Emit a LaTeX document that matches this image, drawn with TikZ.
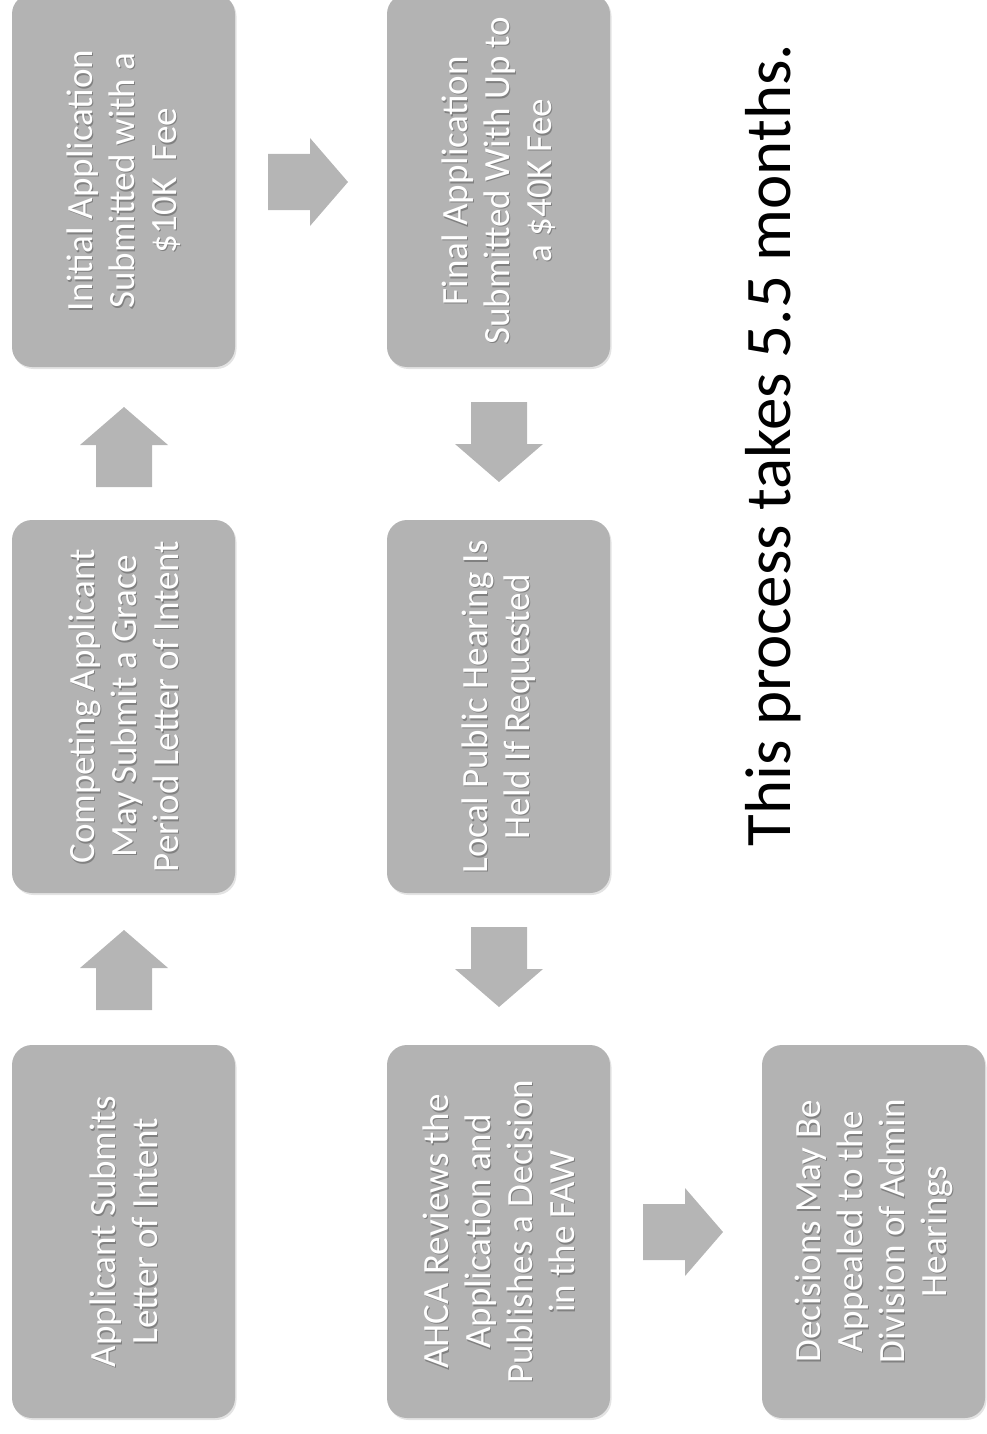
\documentclass[tikz,border=0pt]{standalone}
\usepackage{fontspec}
\setmainfont{Carlito}
\usetikzlibrary{shadows}
\definecolor{boxgray}{RGB}{179,179,179}
\definecolor{arrgray}{RGB}{181,181,181}
\tikzset{
  stepbox/.style={draw=none, fill=boxgray, rounded corners=20pt,
    minimum width=223pt, minimum height=373pt, inner sep=0pt,
    drop shadow={opacity=0.22, shadow xshift=1.5pt, shadow yshift=-2pt}},
  boxtext/.style={rotate=90, align=center, text=white, inner sep=0pt,
    font=\fontsize{37}{42}\selectfont},
  boxshadow/.style={boxtext, text=black, opacity=0.28},
  bigtext/.style={rotate=90, anchor=base, inner sep=0pt, text=black,
    font=\fontsize{65}{78}\selectfont},
  blockarrow/.pic={\fill[arrgray] (0,-28) -- (42,-28) -- (42,-44) -- (80,0)
    -- (42,44) -- (42,28) -- (0,28) -- cycle;}
}
\newcommand{\steptext}[4]{%
  \node[boxshadow] (#1s) at ([shift={(1.5pt,-1.5pt)}]#2) {#3};
  \node[boxtext] (#1t) at (#2) {#3};}
\begin{document}
\begin{tikzpicture}[x=1pt,y=-1pt]
\useasboundingbox (0,0) rectangle (987,1434);
% boxes
\node[stepbox] (A) at (123.5,180.5) {};
\node[stepbox] (B) at (123.5,706.5) {};
\node[stepbox] (C) at (123.5,1231.5) {};
\node[stepbox] (D) at (498.5,180.5) {};
\node[stepbox] (E) at (498.5,706.5) {};
\node[stepbox] (F) at (498.5,1231.5) {};
\node[stepbox] (G) at (873.5,1231.5) {};
% texts
\steptext{A}{A.center}{Initial Application\\Submitted with a\\\$10K\ \ Fee}{}
\steptext{B}{B.center}{Competing Applicant\\May Submit a Grace\\Period Letter of Intent}{}
\steptext{C}{C.center}{Applicant Submits\\Letter of Intent}{}
\steptext{D}{D.center}{Final Application\\Submitted With Up to\\a \$40K Fee}{}
\steptext{E}{E.center}{Local Public Hearing Is\\Held If Requested}{}
\steptext{F}{F.center}{AHCA Reviews the\\Application and\\Publishes a Decision\\in the FAW}{}
\steptext{G}{G.center}{Decisions May Be\\Appealed to the\\Division of Admin\\Hearings}{}
% block arrows
\pic[rotate=90] at (124,1010) {blockarrow};
\pic[rotate=90] at (124,487) {blockarrow};
\pic at (268,182) {blockarrow};
\pic[rotate=-90] at (499,402) {blockarrow};
\pic[rotate=-90] at (499,927) {blockarrow};
\pic at (643,1232) {blockarrow};
% note
\node[bigtext] (note) at (790,445) {This process takes 5.5 months.};
\end{tikzpicture}
\end{document}
